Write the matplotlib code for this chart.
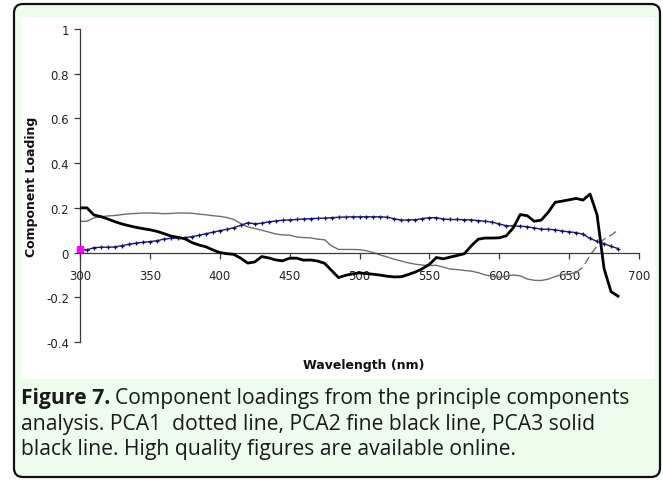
import numpy as np
import matplotlib
matplotlib.use("Agg")
import matplotlib.pyplot as plt
from matplotlib.patches import FancyBboxPatch, Rectangle
from matplotlib.transforms import IdentityTransform

# ---------------- data ----------------
wavelength = np.arange(300, 686, 5)  # nm

pca1 = [0.015, 0.012, 0.022, 0.024, 0.024, 0.025, 0.031, 0.037, 0.042, 0.046,
        0.049, 0.053, 0.060, 0.064, 0.065, 0.067, 0.071, 0.077, 0.084, 0.091,
        0.098, 0.104, 0.111, 0.122, 0.133, 0.129, 0.131, 0.138, 0.141, 0.145,
        0.146, 0.148, 0.150, 0.152, 0.153, 0.154, 0.156, 0.158, 0.159, 0.160,
        0.160, 0.160, 0.160, 0.160, 0.158, 0.151, 0.145, 0.146, 0.147, 0.152,
        0.156, 0.156, 0.150, 0.148, 0.148, 0.147, 0.146, 0.143, 0.140, 0.136,
        0.128, 0.120, 0.119, 0.118, 0.116, 0.110, 0.105, 0.104, 0.102, 0.096,
        0.093, 0.089, 0.082, 0.063, 0.050, 0.040, 0.028, 0.018]

pca2 = [0.140, 0.140, 0.155, 0.160, 0.164, 0.166, 0.170, 0.173, 0.175, 0.177,
        0.177, 0.176, 0.174, 0.175, 0.177, 0.177, 0.176, 0.172, 0.169, 0.165,
        0.162, 0.157, 0.148, 0.130, 0.115, 0.108, 0.100, 0.092, 0.083, 0.079,
        0.078, 0.070, 0.067, 0.066, 0.060, 0.057, 0.030, 0.014, 0.014, 0.014,
        0.013, 0.008, 0.000, -0.011, -0.020, -0.030, -0.038, -0.046, -0.052, -0.056,
        -0.058, -0.057, -0.065, -0.074, -0.076, -0.080, -0.083, -0.090, -0.100, -0.106,
        -0.110, -0.106, -0.100, -0.104, -0.118, -0.124, -0.125, -0.119, -0.107, -0.098,
        -0.095, -0.090, -0.065, -0.012, 0.030, 0.060, 0.078, 0.100]

pca3 = [0.200, 0.200, 0.168, 0.161, 0.150, 0.138, 0.128, 0.120, 0.113, 0.107,
        0.102, 0.095, 0.085, 0.074, 0.068, 0.062, 0.045, 0.034, 0.026, 0.012,
        0.000, -0.005, -0.008, -0.025, -0.047, -0.042, -0.018, -0.024, -0.033, -0.037,
        -0.025, -0.025, -0.034, -0.033, -0.038, -0.048, -0.080, -0.112, -0.102, -0.095,
        -0.091, -0.094, -0.097, -0.101, -0.106, -0.109, -0.108, -0.098, -0.087, -0.072,
        -0.053, -0.022, -0.028, -0.020, -0.013, -0.005, 0.030, 0.060, 0.065, 0.065,
        0.066, 0.075, 0.110, 0.170, 0.165, 0.140, 0.145, 0.180, 0.225, 0.230,
        0.236, 0.242, 0.235, 0.262, 0.168, -0.072, -0.175, -0.195]

x_ticks = [300, 350, 400, 450, 500, 550, 600, 650, 700]
y_ticks = [-0.4, -0.2, 0, 0.2, 0.4, 0.6, 0.8, 1]
y_tick_labels = ["-0.4", "-0.2", "0", "0.2", "0.4", "0.6", "0.8", "1"]
pca2_dash_from = 655  # nm, tail of PCA2 appears dashed

# ---------------- figure ----------------
W, H = 663, 481
fig = plt.figure(figsize=(W / 100, H / 100), dpi=100)
fig.patch.set_facecolor("white")

def px_box(x0, y0, x1, y1):
    return x0, H - y1, x1 - x0, y1 - y0

# outer rounded green panel
bx, by, bw, bh = px_box(14, 5, 660, 478)
outer = FancyBboxPatch((bx + 9, by + 9), bw - 18, bh - 18,
                       boxstyle="round,pad=9", transform=IdentityTransform(),
                       facecolor="#eefcee", edgecolor="#111111", linewidth=1.6,
                       zorder=0)
fig.patches.append(outer)

# white chart area
wx, wy, ww, wh = px_box(21, 18, 655, 380)
fig.patches.append(Rectangle((wx, wy), ww, wh, transform=IdentityTransform(),
                             facecolor="white", edgecolor="none", zorder=0.5))

# axes placement
ax_left, ax_right, ax_top, ax_bot = 80, 639, 30, 343
ax = fig.add_axes([ax_left / W, 1 - ax_bot / H,
                   (ax_right - ax_left) / W, (ax_bot - ax_top) / H])
ax.set_zorder(3)
ax.set_facecolor("none")
ax.set_xlim(300, 700)
ax.set_ylim(-0.4, 1.0)

axis_col = "#3a3a3a"
for s in ["top", "right"]:
    ax.spines[s].set_visible(False)
ax.spines["left"].set_color(axis_col)
ax.spines["left"].set_linewidth(0.9)
ax.spines["bottom"].set_position(("data", 0))
ax.spines["bottom"].set_color(axis_col)
ax.spines["bottom"].set_linewidth(0.9)

ax.set_xticks(x_ticks)
ax.set_xticklabels([str(t) for t in x_ticks])
ax.set_yticks(y_ticks)
ax.set_yticklabels(y_tick_labels)
ax.tick_params(axis="both", direction="out", length=4, width=0.9,
               color=axis_col, labelsize=8.5, labelcolor="#222222", pad=4)
ax.tick_params(axis="x", pad=8)

# curves
wl = np.asarray(wavelength)
p2 = np.asarray(pca2)
solid = wl <= pca2_dash_from
dashed = wl >= pca2_dash_from
ax.plot(wl[solid], p2[solid], color="#6e6e6e", linewidth=1.0, zorder=2)
ax.plot(wl[dashed], p2[dashed], color="#6e6e6e", linewidth=1.0,
        linestyle=(0, (6, 3)), zorder=2)
ax.plot(wavelength, pca1, color="#1a1a80", linewidth=1.0, marker="+",
        markersize=3.5, markeredgewidth=0.9, markeredgecolor="#10106a", zorder=3)
ax.plot(wavelength, pca3, color="black", linewidth=2.0, zorder=4)
ax.plot(wavelength[:1], pca1[:1], linestyle="none", marker="s", markersize=4.5,
        color="#ff00ff", clip_on=False, zorder=5)

# axis labels
fig.text(364 / W, 1 - 366 / H, "Wavelength (nm)", ha="center", va="center",
         fontsize=9, fontweight="bold", color="#111111", zorder=4)
fig.text(32 / W, 1 - 187 / H, "Component Loading", ha="center", va="center",
         rotation=90, fontsize=9, fontweight="bold", color="#111111", zorder=4)

# caption
cap_font = ["Open Sans", "DejaVu Sans"]
cap_size = 15.2
y1 = 1 - 399 / H
t = fig.text(21 / W, y1, "Figure 7.", ha="left", va="center", fontsize=cap_size,
             fontweight="bold", family=cap_font, color="#1a1a1a", zorder=4)
fig.canvas.draw()
bb = t.get_window_extent()
fig.text((bb.x1 + 5) / W, y1, "Component loadings from the principle components",
         ha="left", va="center", fontsize=cap_size, family=cap_font, color="#1a1a1a", zorder=4)
fig.text(21 / W, 1 - 425 / H,
         "analysis. PCA1  dotted line, PCA2 fine black line, PCA3 solid",
         ha="left", va="center", fontsize=cap_size, family=cap_font, color="#1a1a1a", zorder=4)
fig.text(21 / W, 1 - 450 / H,
         "black line. High quality figures are available online.",
         ha="left", va="center", fontsize=cap_size, family=cap_font, color="#1a1a1a", zorder=4)

fig.savefig("out.png", dpi=100)
